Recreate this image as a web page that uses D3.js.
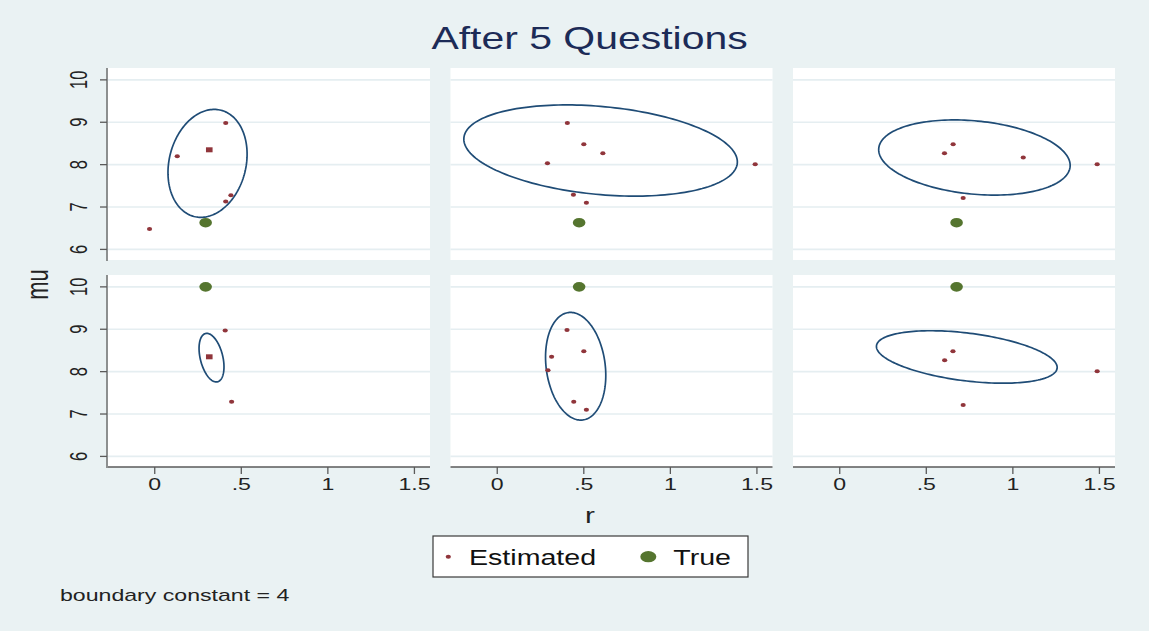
<!DOCTYPE html>
<meta charset="utf-8">
<style>
body { margin: 0; background: #eaf2f3; }
text { font-family: "Liberation Sans", Arial, sans-serif; }
</style>
<body>
<script src="https://cdn.jsdelivr.net/npm/d3@7"></script>
<script>
// values: r on x, mu on y
var rTicks = [0, 0.5, 1, 1.5];
var rTickText = ["0", ".5", "1", "1.5"];
var muTicks = [6, 7, 8, 9, 10];

// estimated points per panel (row by row, left to right)
var estimated = [
  [[-0.03, 6.48], [0.13, 8.20], [0.41, 8.98], [0.44, 7.28], [0.41, 7.13]],
  [[0.405, 8.98], [0.50, 8.48], [0.61, 8.27], [0.29, 8.03], [1.49, 8.01], [0.44, 7.29], [0.515, 7.10]],
  [[0.655, 8.48], [0.605, 8.27], [1.06, 8.17], [1.487, 8.01], [0.713, 7.21]],
  [[0.407, 8.97], [0.444, 7.29]],
  [[0.403, 8.98], [0.50, 8.48], [0.314, 8.35], [0.293, 8.03], [0.442, 7.29], [0.515, 7.10]],
  [[0.654, 8.48], [0.606, 8.27], [1.487, 8.01], [0.713, 7.21]]
];
// estimate drawn with a square marker
var squareEst = [[0.315, 8.35], null, null, [0.315, 8.35], null, null];
var truth = [[0.294, 6.63], [0.473, 6.63], [0.675, 6.63], [0.294, 10], [0.473, 10], [0.675, 10]];

// boundary ellipses: centre, half extent in r and mu, correlation
var ellCx = [0.305, 0.597, 0.778, 0.328, 0.453, 0.734];
var ellCy = [8.03, 8.333, 8.168, 8.33, 8.127, 8.346];
var ellSx = [0.2285, 0.79, 0.553, 0.072, 0.174, 0.522];
var ellSy = [1.273, 1.076, 0.887, 0.573, 1.27, 0.619];
var ellRho = [0.17, -0.25, -0.21, -0.38, -0.17, -0.4];

var width = 1149, height = 631;
var SX = 1.3; // text in the picture is stretched sideways

var svg = d3.select("body").append("svg")
  .attr("width", width)
  .attr("height", height);

svg.append("rect")
  .attr("width", width).attr("height", height)
  .attr("fill", "#eaf2f3");

function stretch(sel, x, y, rot, sx) {
  return sel.attr("transform", "translate(" + x + "," + y + ") scale(" + (sx || SX) + ",1)" + (rot ? " rotate(" + rot + ")" : ""));
}

svg.append("text")
  .call(stretch, 589.5, 49)
  .attr("text-anchor", "middle")
  .attr("fill", "#1c2b57")
  .style("font-size", "31.5px")
  .text("After 5 Questions");

var pw = 322, ph = 192;
var lefts = [108, 450.5, 793];
var tops = [68, 275];

var angles = d3.range(0, 360, 2).map(a => a * Math.PI / 180);

estimated.forEach(function(pts, i) {
  var col = i % 3, row = Math.floor(i / 3);
  var x = d3.scaleLinear().domain([-0.27, 1.59]).range([lefts[col], lefts[col] + pw]);
  var y = d3.scaleLinear().domain([5.75, 10.28]).range([tops[row] + ph, tops[row]]);
  var g = svg.append("g");

  g.append("rect")
    .attr("x", lefts[col]).attr("y", tops[row])
    .attr("width", pw).attr("height", ph)
    .attr("fill", "#fff");

  g.selectAll(".grid").data(muTicks).enter().append("line")
    .attr("x1", lefts[col]).attr("x2", lefts[col] + pw)
    .attr("y1", d => y(d)).attr("y2", d => y(d))
    .attr("stroke", "#e5eef1")
    .attr("stroke-width", 1.6);

  // ellipse
  var rho = ellRho[i], k = Math.sqrt(1 - rho * rho);
  var ell = angles.map(t => [
    ellCx[i] + ellSx[i] * Math.cos(t),
    ellCy[i] + ellSy[i] * (rho * Math.cos(t) + k * Math.sin(t))
  ]);
  g.append("path")
    .attr("d", d3.line().x(d => x(d[0])).y(d => y(d[1])).curve(d3.curveLinearClosed)(ell))
    .attr("fill", "none")
    .attr("stroke", "#1f4c76")
    .attr("stroke-width", 1.7);

  g.selectAll(".est").data(pts).enter().append("ellipse")
    .attr("cx", d => x(d[0])).attr("cy", d => y(d[1]))
    .attr("rx", 2.6).attr("ry", 2)
    .attr("fill", "#90353b");

  if (squareEst[i]) {
    g.append("rect")
      .attr("x", x(squareEst[i][0]) - 3.3).attr("y", y(squareEst[i][1]) - 2.5)
      .attr("width", 6.6).attr("height", 5)
      .attr("fill", "#90353b");
  }

  g.append("ellipse")
    .attr("cx", x(truth[i][0])).attr("cy", y(truth[i][1]))
    .attr("rx", 6.3).attr("ry", 4.8)
    .attr("fill", "#55752f");

  // y axis on the left column
  if (col === 0) {
    var ax = lefts[col] - 1;
    g.append("line")
      .attr("x1", ax).attr("x2", ax)
      .attr("y1", tops[row]).attr("y2", tops[row] + ph + 1)
      .attr("stroke", "#5a5a5a").attr("stroke-width", 1.3);
    muTicks.forEach(function(t) {
      g.append("line")
        .attr("x1", ax - 7).attr("x2", ax)
        .attr("y1", y(t)).attr("y2", y(t))
        .attr("stroke", "#5a5a5a").attr("stroke-width", 1.3);
      g.append("text")
        .call(stretch, ax - 20, y(t), -90, 1.4)
        .attr("text-anchor", "middle")
        .attr("fill", "#222")
        .style("font-size", "16.5px")
        .text(t);
    });
  }

  // x axis on the bottom row
  if (row === 1) {
    var ay = tops[row] + ph;
    g.append("line")
      .attr("x1", lefts[col]).attr("x2", lefts[col] + pw)
      .attr("y1", ay).attr("y2", ay)
      .attr("stroke", "#5a5a5a").attr("stroke-width", 1.3);
    rTicks.forEach(function(t, j) {
      g.append("line")
        .attr("x1", x(t)).attr("x2", x(t))
        .attr("y1", ay).attr("y2", ay + 7)
        .attr("stroke", "#5a5a5a").attr("stroke-width", 1.3);
      g.append("text")
        .call(stretch, x(t), ay + 23, 0, 1.4)
        .attr("text-anchor", "middle")
        .attr("fill", "#222")
        .style("font-size", "16.5px")
        .text(rTickText[j]);
    });
  }
});

svg.append("text")
  .call(stretch, 48, 284.5, -90, 1.45)
  .attr("text-anchor", "middle")
  .attr("fill", "#222")
  .style("font-size", "22px")
  .text("mu");

svg.append("text")
  .call(stretch, 590, 523, 0, 1.35)
  .attr("text-anchor", "middle")
  .attr("fill", "#222")
  .style("font-size", "22px")
  .text("r");

// legend
var lg = svg.append("g");
lg.append("rect")
  .attr("x", 433).attr("y", 536)
  .attr("width", 315).attr("height", 41)
  .attr("fill", "#fff")
  .attr("stroke", "#3a3a3a").attr("stroke-width", 1.2);
lg.append("ellipse")
  .attr("cx", 448.3).attr("cy", 556.7)
  .attr("rx", 2.6).attr("ry", 2)
  .attr("fill", "#90353b");
lg.append("text")
  .call(stretch, 469, 565)
  .attr("fill", "#111")
  .style("font-size", "22px")
  .text("Estimated");
lg.append("ellipse")
  .attr("cx", 648.3).attr("cy", 556.7)
  .attr("rx", 8).attr("ry", 5.6)
  .attr("fill", "#55752f");
lg.append("text")
  .call(stretch, 673.3, 565)
  .attr("fill", "#111")
  .style("font-size", "22px")
  .text("True");

svg.append("text")
  .call(stretch, 60, 600.5, 0, 1.36)
  .attr("fill", "#222")
  .style("font-size", "17px")
  .text("boundary constant = 4");
</script>
</body>
</html>
